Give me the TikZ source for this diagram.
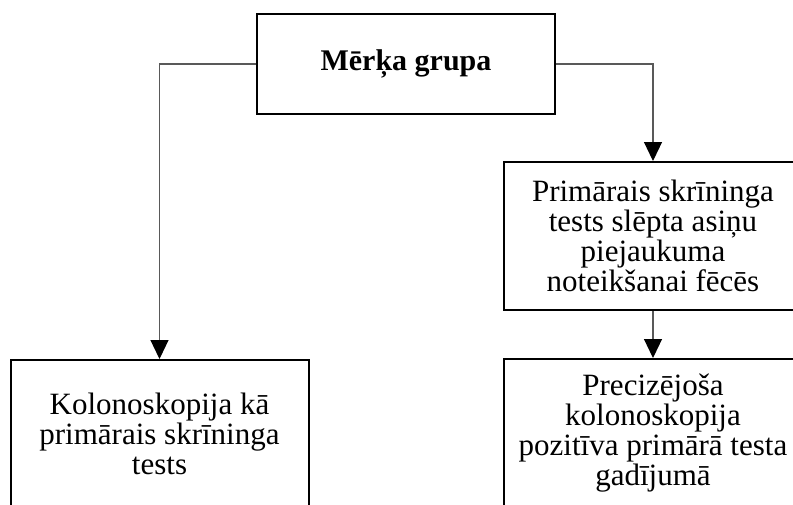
\documentclass[tikz,border=0pt]{standalone}
\usepackage{fontspec}
\setmainfont{Liberation Serif}
\usetikzlibrary{arrows.meta}
\begin{document}
\begin{tikzpicture}[x=1pt,y=-1pt,
 box/.style={draw=black,line width=2pt,minimum width=298pt,minimum height=148pt,inner sep=0pt,align=center,font=\fontsize{31}{30}\selectfont},
 conn/.style={draw=black!65,line width=1.2pt,-{Triangle[length=19pt,width=18pt,color=black]}}]
\useasboundingbox (0,0) rectangle (793,504);
\clip (0,0) rectangle (793,504);
\node[box,minimum height=100pt,font=\fontsize{30}{30}\selectfont\bfseries] (top) at (406,64) {Mērķa grupa};
\node[box] (left) at (159.5,434) {Kolonoskopija kā\\primārais skrīninga\\tests};
\node[box] (r1) at (653,236) {Primārais skrīninga\\tests slēpta asiņu\\piejaukuma\\noteikšanai fēcēs};
\node[box] (r2) at (653,433) {Precizējoša\\kolonoskopija\\pozitīva primārā testa\\gadījumā};
\draw[conn] (top.west) -| (left.north);
\draw[conn] (top.east) -| (r1.north);
\draw[conn] (r1.south) -- (r2.north);
\end{tikzpicture}
\end{document}
